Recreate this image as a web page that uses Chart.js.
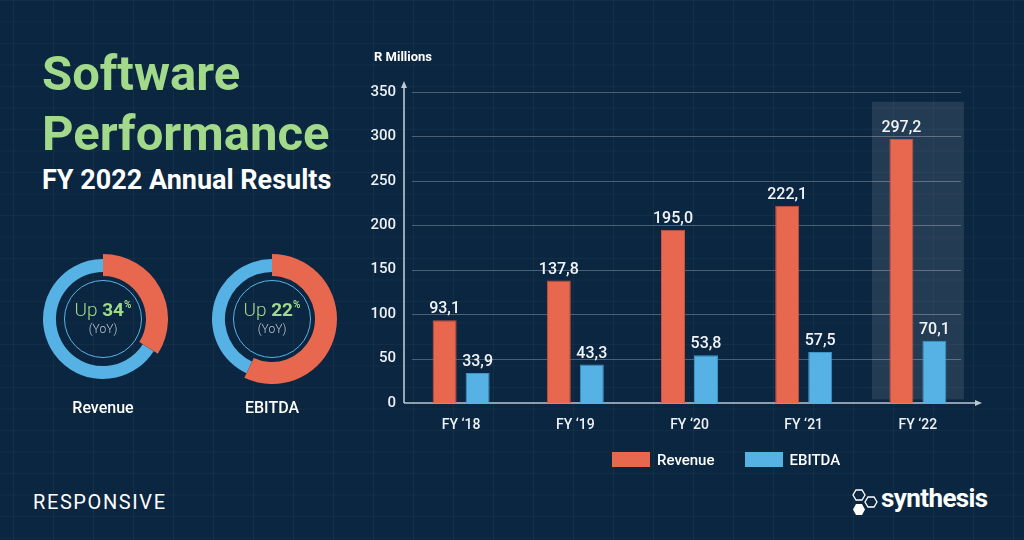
<!DOCTYPE html>
<html>
<head>
<meta charset="utf-8">
<script src="https://cdn.jsdelivr.net/npm/chart.js@4.4.1/dist/chart.umd.min.js"></script>
<style>
  html, body { margin: 0; padding: 0; }
  body { width: 1024px; height: 540px; overflow: hidden; font-family: Roboto, "Noto Sans", sans-serif; }
  #page {
    position: relative; width: 1024px; height: 540px;
    background-color: #0b2640;
    background-image:
      linear-gradient(90deg, rgba(255,255,255,0.035) 1px, transparent 1px),
      linear-gradient(rgba(255,255,255,0.03) 1px, transparent 1px);
    background-size: 40px 21.5px;
    background-position: 13px 0;
  }
  .abs { position: absolute; }
  .big { left: 42px; font-weight: 700; font-size: 49px; color: #a2d98a; line-height: 1; }
  .sub { left: 42px; top: 167px; font-weight: 700; font-size: 27px; color: #fff; line-height: 1; }
  .ring { width: 78px; height: 78px; border: 1.5px solid #5ab4e5; border-radius: 50%; box-sizing: border-box; }
  .ctext { width: 120px; text-align: center; color: #a2d98a; }
  .ctext .up { font-size: 19px; font-weight: 300; }
  .ctext b { font-weight: 700; }
  .ctext sup { font-size: 10px; font-weight: 700; vertical-align: 8px; }
  .ctext .yoy { font-size: 12px; font-weight: 300; color: #c3cbd4; margin-top: 1px; }
  .dlabel { width: 120px; text-align: center; color: #fff; font-weight: 500; font-size: 16px; }
  #legend { left: 612px; top: 451px; display: flex; gap: 30px; color: #fff; font-size: 15px; font-weight: 500; }
  #legend span.box { display: inline-block; width: 38px; height: 15px; margin-right: 7px; vertical-align: -2px; }
</style>
</head>
<body>
<div id="page">
  <div class="abs big" style="top:49px">Software</div>
  <div class="abs big" style="top:109px">Performance</div>
  <div class="abs sub">FY 2022 Annual Results</div>

  <canvas id="ringRevenue" class="abs" style="left:38px;top:254px;width:130px;height:130px" width="130" height="130"></canvas>
  <canvas id="donutRevenue" class="abs" style="left:38px;top:254px;width:130px;height:130px" width="130" height="130"></canvas>
  <canvas id="ringEbitda" class="abs" style="left:207px;top:254px;width:130px;height:130px" width="130" height="130"></canvas>
  <canvas id="donutEbitda" class="abs" style="left:207px;top:254px;width:130px;height:130px" width="130" height="130"></canvas>
  <div class="abs ring" style="left:64px;top:280px"></div>
  <div class="abs ring" style="left:233px;top:280px"></div>
  <div class="abs ctext" style="left:43px;top:298px"><div class="up">Up <b>34</b><sup>%</sup></div><div class="yoy">(YoY)</div></div>
  <div class="abs ctext" style="left:212px;top:298px"><div class="up">Up <b>22</b><sup>%</sup></div><div class="yoy">(YoY)</div></div>
  <div class="abs dlabel" style="left:43px;top:398px">Revenue</div>
  <div class="abs dlabel" style="left:212px;top:398px">EBITDA</div>

  <canvas id="barChart" class="abs" style="left:366px;top:40px;width:658px;height:440px" width="658" height="440"></canvas>
  <div id="legend" class="abs"></div>

  <div class="abs" style="left:33px;top:492px;color:#fff;font-size:20px;font-weight:400;letter-spacing:1.6px;line-height:1">RESPONSIVE</div>
  <svg class="abs" style="left:852px;top:489px" width="28" height="28" viewBox="0 0 28 28">
    <polygon points="4,1 10,1 13,6 10,11 4,11 1,6" fill="none" stroke="#fff" stroke-width="1.3"/>
    <polygon points="16,8 22,8 25,13 22,18 16,18 13,13" fill="none" stroke="#fff" stroke-width="1.3"/>
    <polygon points="4,15 10,15 13,20.5 10,26 4,26 1,20.5" fill="#fff"/>
  </svg>
  <div class="abs" style="left:881px;top:485px;color:#fff;font-size:26px;font-weight:700;letter-spacing:-0.6px;line-height:1">synthesis</div>
</div>

<script>
// --- data ---
const years = ['FY \u201818', 'FY \u201819', 'FY \u201820', 'FY \u201821', 'FY \u201822'];
const revenue = [93.1, 137.8, 195.0, 222.1, 297.2];
const ebitda = [33.9, 43.3, 53.8, 57.5, 70.1];
const yTicks = [0, 50, 100, 150, 200, 250, 300, 350];
const revenueSplit = [34, 66];
const ebitdaSplit = [57, 43];
const highlightIndex = 4;

const RED = '#e8674f';
const BLUE = '#56b2e4';
const AXIS = '#bfc7cf';
const NONE = 'rgba(0,0,0,0)';

Chart.defaults.font.family = 'Roboto, "Noto Sans", sans-serif';
Chart.defaults.animation = false;

// donuts: thin blue ring underneath, thicker red arc on top
function donut(id, split, colors, radius, cutout) {
  new Chart(document.getElementById(id), {
    type: 'doughnut',
    data: { datasets: [{ data: split, backgroundColor: colors, borderWidth: 0 }] },
    options: {
      responsive: false, radius: radius, cutout: cutout, events: [],
      plugins: { legend: { display: false }, tooltip: { enabled: false } }
    }
  });
}
donut('ringRevenue', revenueSplit, [NONE, BLUE], 60, 51);
donut('donutRevenue', revenueSplit, [RED, NONE], 65, 43);
donut('ringEbitda', ebitdaSplit, [NONE, BLUE], 60, 51);
donut('donutEbitda', ebitdaSplit, [RED, NONE], 65, 43);

// highlight, grid lines, axes with arrows, value labels
const decor = {
  id: 'decor',
  beforeDatasetsDraw(chart) {
    const { ctx, chartArea, scales: { x, y } } = chart;
    ctx.save();
    const cx = x.getPixelForValue(highlightIndex);
    const top = y.getPixelForValue(339), bot = y.getPixelForValue(4);
    ctx.fillStyle = 'rgba(255,255,255,0.1)';
    ctx.fillRect(cx - 46, top, 92, bot - top);

    ctx.strokeStyle = 'rgba(255,255,255,0.27)';
    ctx.lineWidth = 1;
    yTicks.forEach(v => {
      if (v === 0) return;
      const py = Math.round(y.getPixelForValue(v)) + 0.5;
      ctx.beginPath();
      ctx.moveTo(chartArea.left + 8, py);
      ctx.lineTo(chartArea.right - 14, py);
      ctx.stroke();
    });

    const x0 = chartArea.left, y0 = y.getPixelForValue(0);
    ctx.strokeStyle = AXIS; ctx.fillStyle = AXIS; ctx.lineWidth = 1.6;
    ctx.beginPath();
    ctx.moveTo(x0, y0); ctx.lineTo(x0, chartArea.top - 6);
    ctx.moveTo(x0, y0); ctx.lineTo(chartArea.right + 2, y0);
    ctx.stroke();
    ctx.beginPath();
    ctx.moveTo(x0, chartArea.top - 11); ctx.lineTo(x0 - 3, chartArea.top - 4); ctx.lineTo(x0 + 3, chartArea.top - 4); ctx.closePath();
    ctx.moveTo(chartArea.right + 7, y0); ctx.lineTo(chartArea.right, y0 - 3); ctx.lineTo(chartArea.right, y0 + 3); ctx.closePath();
    ctx.fill();

    ctx.fillStyle = '#fff';
    ctx.font = '700 13px Roboto';
    ctx.textAlign = 'left'; ctx.textBaseline = 'middle';
    ctx.fillText('R Millions', 8, 18);
    ctx.restore();
  },
  afterDatasetsDraw(chart) {
    const { ctx } = chart;
    ctx.save();
    ctx.fillStyle = '#f2f5f8';
    ctx.font = '500 16px Roboto';
    ctx.textAlign = 'center'; ctx.textBaseline = 'bottom';
    chart.data.datasets.forEach((ds, i) => {
      chart.getDatasetMeta(i).data.forEach((bar, j) => {
        ctx.fillText(ds.data[j].toFixed(1).replace('.', ','), bar.x, bar.y - 3);
      });
    });
    ctx.restore();
  }
};

const barChart = new Chart(document.getElementById('barChart'), {
  type: 'bar',
  data: {
    labels: years,
    datasets: [
      { label: 'Revenue', data: revenue, backgroundColor: RED, borderColor: '#c9513d', borderWidth: 1 },
      { label: 'EBITDA', data: ebitda, backgroundColor: BLUE, borderColor: '#3f95c6', borderWidth: 1 }
    ]
  },
  options: {
    responsive: false,
    events: [],
    categoryPercentage: 0.578,
    barPercentage: 0.727,
    layout: { padding: { left: 2, right: 49, top: 52, bottom: 0 } },
    scales: {
      x: {
        grid: { display: false }, border: { display: false },
        ticks: { color: '#eef2f6', font: { size: 14, weight: '500' }, padding: 6 },
        afterFit(s) { s.height = 77; }
      },
      y: {
        min: 0, max: 350,
        grid: { display: false, drawTicks: false }, border: { display: false },
        ticks: { stepSize: 50, color: '#eef2f6', font: { size: 15, weight: '500' }, padding: 8 },
        afterFit(s) { s.width = 36; }
      }
    },
    plugins: { legend: { display: false }, tooltip: { enabled: false } }
  },
  plugins: [decor]
});

document.getElementById('legend').innerHTML = barChart.data.datasets.map(ds =>
  `<div><span class="box" style="background:${ds.backgroundColor}"></span>${ds.label}</div>`
).join('');
</script>
</body>
</html>
